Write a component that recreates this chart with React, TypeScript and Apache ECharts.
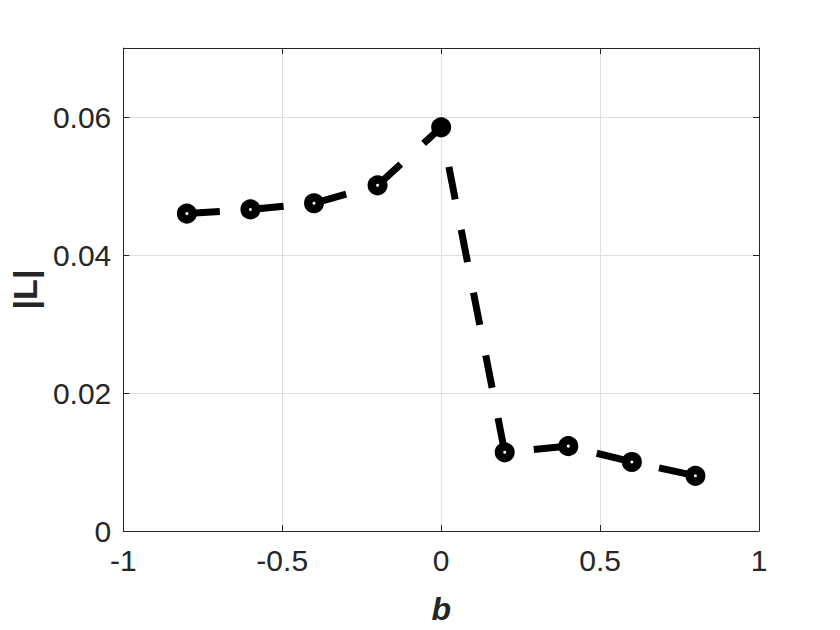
import React, { useEffect, useRef } from "react";
import * as echarts from "echarts";

const bValues = [-0.8, -0.6, -0.4, -0.2, 0, 0.2, 0.4, 0.6, 0.8];
const lValues = [0.0460, 0.0466, 0.0475, 0.0501, 0.0585, 0.0114, 0.0123, 0.0100, 0.0080];
const filledIndex = 4;
const xName = "b";
const yName = "|L|";

const textColor = "#262626";
const font = "Liberation Sans, Arial, sans-serif";

export default function App() {
  const ref = useRef<HTMLDivElement>(null);
  useEffect(() => {
    if (!ref.current) return;
    const chart = echarts.init(ref.current, undefined, { renderer: "svg" });
    const data = bValues.map((b, i) =>
      i === filledIndex
        ? { value: [b, lValues[i]], itemStyle: { color: "#000", borderColor: "#000" } }
        : { value: [b, lValues[i]] }
    );
    const axisLine = { show: true, onZero: false, lineStyle: { color: textColor, width: 1 } };
    chart.setOption({
      animation: false,
      backgroundColor: "#fff",
      grid: { left: 123, right: 81, top: 48, bottom: 99, containLabel: false },
      xAxis: [
        {
          type: "value",
          min: -1,
          max: 1,
          interval: 0.5,
          position: "bottom",
          name: xName,
          nameLocation: "middle",
          nameGap: 62,
          nameTextStyle: { fontFamily: font, fontSize: 32, fontWeight: "bold", fontStyle: "italic", color: textColor },
          axisLine,
          axisTick: { show: true, inside: true, length: 6, lineStyle: { color: textColor } },
          axisLabel: { fontFamily: font, fontSize: 30, color: textColor, margin: 14 },
          splitLine: { show: true, lineStyle: { color: "#dedede", width: 1 } },
        },
        {
          type: "value",
          min: -1,
          max: 1,
          interval: 0.5,
          position: "top",
          axisLine,
          axisTick: { show: true, inside: true, length: 6, lineStyle: { color: textColor } },
          axisLabel: { show: false },
          splitLine: { show: false },
        },
      ],
      yAxis: [
        {
          type: "value",
          min: 0,
          max: 0.07,
          interval: 0.02,
          position: "left",
          name: yName,
          nameLocation: "middle",
          nameGap: 80,
          nameRotate: 90,
          nameTextStyle: { fontFamily: font, fontSize: 34, fontWeight: "bold", color: textColor },
          axisLine,
          axisTick: { show: true, inside: true, length: 6, lineStyle: { color: textColor } },
          axisLabel: {
            fontFamily: font,
            fontSize: 30,
            color: textColor,
            margin: 12,
            showMaxLabel: false,
            formatter: (v: number) => (v === 0 ? "0" : v > 0.065 ? "" : v.toFixed(2)),
          },
          splitLine: { show: true, lineStyle: { color: "#dedede", width: 1 } },
        },
        {
          type: "value",
          min: 0,
          max: 0.07,
          interval: 0.02,
          position: "right",
          axisLine,
          axisTick: { show: true, inside: true, length: 6, lineStyle: { color: textColor } },
          axisLabel: { show: false },
          splitLine: { show: false },
        },
      ],
      series: [
        {
          type: "line",
          xAxisIndex: 0,
          yAxisIndex: 0,
          data,
          symbol: "circle",
          symbolSize: 11.5,
          lineStyle: { color: "#000", width: 7, type: [33, 31], cap: "butt" },
          itemStyle: { color: "#fff", borderColor: "#000", borderWidth: 8.5 },
          emphasis: { disabled: true },
        },
      ],
    });
    return () => chart.dispose();
  }, []);
  return <div ref={ref} style={{ position: "fixed", left: 0, top: 0, width: 840, height: 630 }} />;
}
